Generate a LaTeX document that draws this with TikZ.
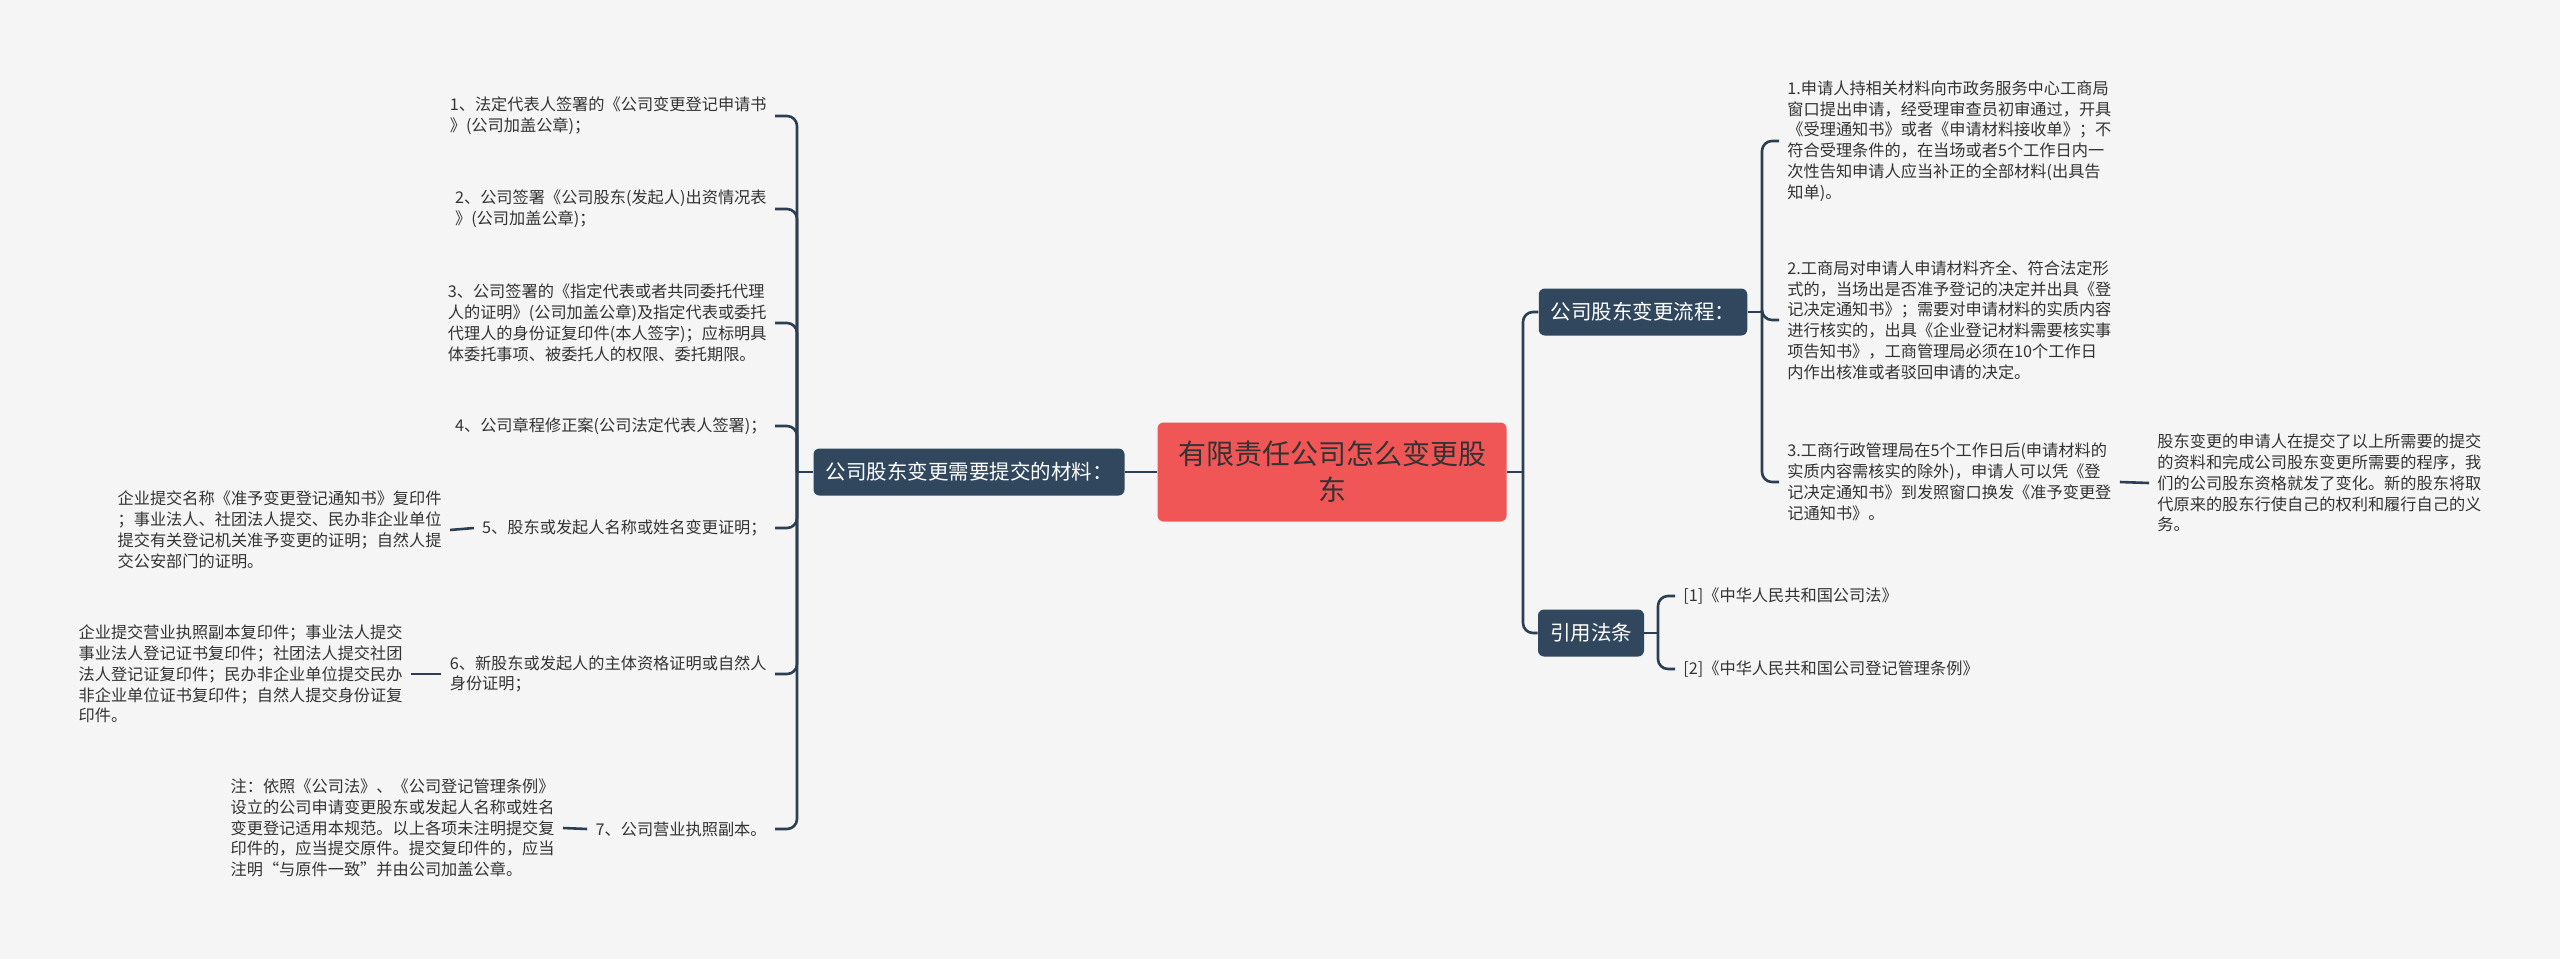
\documentclass[tikz,border=0pt]{standalone}
\usepackage{fontspec}
\setmainfont{Noto Sans CJK SC}
\usepackage{tikz}
\definecolor{xnavy}{RGB}{48,71,94}
\definecolor{xline}{RGB}{44,62,82}
\definecolor{xcoral}{RGB}{240,86,86}
\definecolor{xink}{RGB}{51,51,51}
\definecolor{xpaper}{RGB}{245,245,245}

\begin{document}
\begin{tikzpicture}[x=0.5pt, y=-0.5pt,
  rootbox/.style={fill=xcoral, rounded corners=3pt, minimum width=174.5pt, minimum height=49.5pt,
                  font=\fontsize{14}{18}\selectfont, text=xink, align=center, inner sep=0pt},
  topic/.style={fill=xnavy, rounded corners=3pt, minimum height=23.5pt, inner xsep=6pt, inner ysep=0pt,
                font=\fontsize{10.25}{12}\selectfont, text=white},
  leaf/.style={font=\fontsize{8.1}{10.4}\selectfont, text=xink, align=left, inner xsep=4pt, inner ysep=2pt},
  link/.style={draw=xline, line width=1.3pt, rounded corners=5pt}
]
  \fill[xpaper] (0,0) rectangle (2560,959);

  \node[rootbox] (root) at (1332,472) {有限责任公司怎么变更股\\东};
  \node[topic]   (mat)  at (969,472)  {公司股东变更需要提交的材料：};
  \node[topic]   (flow) at (1643,312) {公司股东变更流程：};
  \node[topic]   (law)  at (1591,633) {引用法条};

  \node[leaf, anchor=east] (m1) at (775,116) {1、法定代表人签署的《公司变更登记申请书\\》(公司加盖公章)；};
  \node[leaf, anchor=east] (m2) at (775,209) {2、公司签署《公司股东(发起人)出资情况表\\》(公司加盖公章)；};
  \node[leaf, anchor=east] (m3) at (775,323) {3、公司签署的《指定代表或者共同委托代理\\人的证明》(公司加盖公章)及指定代表或委托\\代理人的身份证复印件(本人签字)；应标明具\\体委托事项、被委托人的权限、委托期限。};
  \node[leaf, anchor=east] (m4) at (775,426) {4、公司章程修正案(公司法定代表人签署)；};
  \node[leaf, anchor=east] (m5) at (775,528) {5、股东或发起人名称或姓名变更证明；};
  \node[leaf, anchor=east] (m6) at (775,674) {6、新股东或发起人的主体资格证明或自然人\\身份证明；};
  \node[leaf, anchor=east] (m7) at (775,829) {7、公司营业执照副本。};
  \node[leaf, anchor=east] (m5n) at (450,530) {企业提交名称《准予变更登记通知书》复印件\\；事业法人、社团法人提交、民办非企业单位\\提交有关登记机关准予变更的证明；自然人提\\交公安部门的证明。};
  \node[leaf, anchor=east] (m6n) at (411,674) {企业提交营业执照副本复印件；事业法人提交\\事业法人登记证书复印件；社团法人提交社团\\法人登记证复印件；民办非企业单位提交民办\\非企业单位证书复印件；自然人提交身份证复\\印件。};
  \node[leaf, anchor=east] (m7n) at (563,828) {注：依照《公司法》、《公司登记管理条例》\\设立的公司申请变更股东或发起人名称或姓名\\变更登记适用本规范。以上各项未注明提交复\\印件的，应当提交原件。提交复印件的，应当\\注明“与原件一致”并由公司加盖公章。};

  \node[leaf, anchor=west] (f1) at (1779,141) {1.申请人持相关材料向市政务服务中心工商局\\窗口提出申请，经受理审查员初审通过，开具\\《受理通知书》或者《申请材料接收单》；不\\符合受理条件的，在当场或者5个工作日内一\\次性告知申请人应当补正的全部材料(出具告\\知单)。};
  \node[leaf, anchor=west] (f2) at (1779,320) {2.工商局对申请人申请材料齐全、符合法定形\\式的，当场出是否准予登记的决定并出具《登\\记决定通知书》；需要对申请材料的实质内容\\进行核实的，出具《企业登记材料需要核实事\\项告知书》，工商管理局必须在10个工作日\\内作出核准或者驳回申请的决定。};
  \node[leaf, anchor=west] (f3) at (1779,482) {3.工商行政管理局在5个工作日后(申请材料的\\实质内容需核实的除外)，申请人可以凭《登\\记决定通知书》到发照窗口换发《准予变更登\\记通知书》。};
  \node[leaf, anchor=west] (f3n) at (2149,483) {股东变更的申请人在提交了以上所需要的提交\\的资料和完成公司股东变更所需要的程序，我\\们的公司股东资格就发了变化。新的股东将取\\代原来的股东行使自己的权利和履行自己的义\\务。};
  \node[leaf, anchor=west] (law1) at (1675,596) {[1]《中华人民共和国公司法》};
  \node[leaf, anchor=west] (law2) at (1675,669) {[2]《中华人民共和国公司登记管理条例》};

  \coordinate (matbar)  at (797,472);
  \coordinate (rootbar) at (1523,472);
  \coordinate (flowbar) at (1762,312);
  \coordinate (lawbar)  at (1658,633);

  \draw[link] (root.west) -- (mat.east);
  \draw[link] (mat.west) -- (matbar);
  \foreach \m in {m1,m2,m3,m4,m5,m6,m7}
    \draw[link] (matbar) |- (\m.east);
  \draw[link] (m5.west) -- (m5n.east);
  \draw[link] (m6.west) -- (m6n.east);
  \draw[link] (m7.west) -- (m7n.east);

  \draw[link] (root.east) -- (rootbar);
  \foreach \t in {flow,law}
    \draw[link] (rootbar) |- (\t.west);
  \draw[link] (flow.east) -- (flowbar);
  \foreach \f in {f1,f2,f3}
    \draw[link] (flowbar) |- (\f.west);
  \draw[link] (f3.east) -- (f3n.west);
  \draw[link] (law.east) -- (lawbar);
  \foreach \l in {law1,law2}
    \draw[link] (lawbar) |- (\l.west);
\end{tikzpicture}
\end{document}
